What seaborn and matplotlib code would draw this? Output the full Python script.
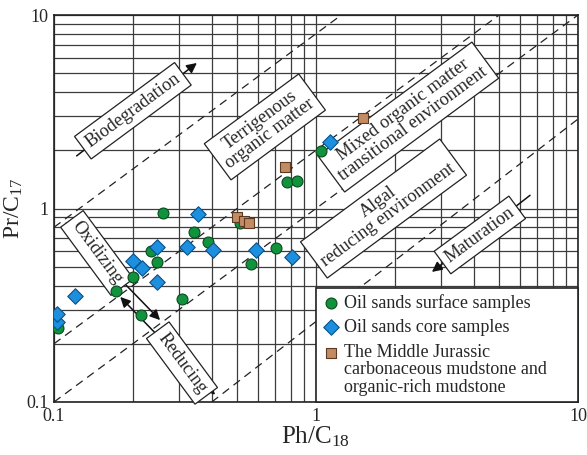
import numpy as np
import pandas as pd
import matplotlib
matplotlib.use('Agg')
import matplotlib.pyplot as plt
import seaborn as sns
from matplotlib.ticker import LogLocator, NullFormatter

# Ph/C18 (x) and Pr/C17 (y) for each sample group
surface_ph = [0.104, 0.172, 0.200, 0.214, 0.234, 0.247, 0.260, 0.307, 0.342, 0.388,
              0.515, 0.564, 0.703, 0.774, 0.843, 1.045]
surface_pr = [0.240, 0.376, 0.444, 0.282, 0.605, 0.527, 0.950, 0.340, 0.760, 0.668,
              0.840, 0.517, 0.627, 1.370, 1.380, 1.980]
core_ph = [0.103, 0.103, 0.120, 0.200, 0.217, 0.247, 0.247, 0.321, 0.353, 0.406,
           0.589, 0.808, 1.130]
core_pr = [0.258, 0.285, 0.353, 0.535, 0.494, 0.635, 0.418, 0.635, 0.933, 0.610,
           0.610, 0.560, 2.210]
mud_ph = [0.498, 0.531, 0.556, 0.762, 1.510]
mud_pr = [0.900, 0.865, 0.845, 1.630, 2.940]

labels = ['Oil sands surface samples', 'Oil sands core samples',
          'The Middle Jurassic\ncarbonaceous mudstone and\norganic-rich mudstone']

# dashed boundary lines (start, end)
boundaries = [((0.1, 0.8), (1.25, 10)), ((0.1, 0.2), (5, 10)),
              ((0.1, 0.1), (10, 10)), ((0.4, 0.1), (10, 2.9))]

# zone / process labels: text, x, y, along (True) or across (False) the lines
zones = [('Biodegradation', 0.200, 3.20, True),
         ('Terrigenous\norganic matter', 0.638, 2.64, True),
         ('Mixed organic matter\ntransitional environment', 2.25, 2.97, True),
         ('Algal\nreducing environment', 1.81, 1.00, True),
         ('Maturation', 4.22, 0.73, True),
         ('Oxidizing', 0.146, 0.589, False),
         ('Reducing', 0.308, 0.159, False)]

# arrows: start, end, style
arrows = [((0.122, 1.87), (0.351, 5.65), '-|>'),
          ((6.56, 1.17), (2.77, 0.47), '-|>'),
          ((0.11, 0.85), (0.254, 0.265), '<|-|>'),
          ((0.179, 0.349), (0.412, 0.109), '<|-|>')]

sns.set_style('white')
plt.rcParams['font.family'] = ['Liberation Serif', 'DejaVu Serif']
plt.rcParams['mathtext.fontset'] = 'custom'
plt.rcParams['mathtext.rm'] = 'Liberation Serif'
plt.rcParams['mathtext.it'] = 'Liberation Serif:italic'

fig = plt.figure(figsize=(5.87, 4.55), dpi=100)
ax = fig.add_axes([54 / 587, 53 / 455, 524 / 587, 387 / 455])
ax.set_xscale('log')
ax.set_yscale('log')
ax.set_xlim(0.1, 10)
ax.set_ylim(0.1, 10)

# grid on every major and minor decade step
for axis in (ax.xaxis, ax.yaxis):
    axis.set_major_locator(LogLocator(base=10))
    axis.set_minor_locator(LogLocator(base=10, subs=np.arange(2, 10)))
    axis.set_minor_formatter(NullFormatter())
ax.set_xticks([0.1, 1, 10], ['0.1', '1', '10'])
ax.set_yticks([0.1, 1, 10], ['0.1', '1', '10'])
ax.grid(which='both', color='#3c3c3c', lw=0.9)
ax.set_axisbelow(True)
ax.tick_params(which='both', length=0, labelsize=13, pad=4)
for s in ax.spines.values():
    s.set_color('#222222')
    s.set_linewidth(1.2)

# slope-1 direction on screen
bb = ax.get_position()
ang = np.degrees(np.arctan((bb.height * 455) / (bb.width * 587)))

for (x0, y0), (x1, y1) in boundaries:
    ax.plot([x0, x1], [y0, y1], color='#222222', lw=0.9, ls=(0, (6.5, 4.5)), zorder=2)

for (x0, y0), (x1, y1), st in arrows:
    ax.annotate('', xy=(x1, y1), xytext=(x0, y0),
                arrowprops=dict(arrowstyle=st, color='#111111', lw=1.1,
                                mutation_scale=15, shrinkA=0, shrinkB=0), zorder=3)

for txt, x, y, along in zones:
    ax.text(x, y, txt, rotation=ang if along else ang - 90, rotation_mode='anchor',
            ha='center', va='center', fontsize=13.2, linespacing=1.0, zorder=4,
            bbox=dict(boxstyle='square,pad=0.3', fc='white', ec='#222222', lw=0.9))

sns.scatterplot(x=surface_ph, y=surface_pr, marker='o', s=62, color='#11923c',
                edgecolor='#0b4a1e', linewidth=0.8, label=labels[0], zorder=6, ax=ax)
sns.scatterplot(x=core_ph, y=core_pr, marker='D', s=62, color='#1c8fdf',
                edgecolor='#0d4f86', linewidth=0.8, label=labels[1], zorder=6, ax=ax)
sns.scatterplot(x=mud_ph, y=mud_pr, marker='s', s=52, color='#c48a62',
                edgecolor='#5a3a22', linewidth=0.8, label=labels[2], zorder=6, ax=ax)

leg = ax.legend(loc='lower left', bbox_to_anchor=(0.5, 0, 0.5, 0.301), mode='expand',
                borderaxespad=0, fontsize=13, frameon=True, fancybox=False,
                framealpha=1, edgecolor='#222222', handletextpad=0.2,
                handlelength=1.0, labelspacing=0.42, borderpad=0.33)
leg.get_frame().set_linewidth(1.2)
leg.set_zorder(8)
for t in leg.get_texts():
    t.set_linespacing(1.05)
# put the third marker level with the first line of its label
h3 = leg.legend_handles[2]
off = h3.get_offsets().copy()
off[:, 1] += 13.5
h3.set_offsets(off)

ax.set_xlabel('Ph/C$_{18}$', fontsize=18, labelpad=0)
ax.set_ylabel('Pr/C$_{17}$', fontsize=17, labelpad=1)

fig.savefig('out.png', dpi=100)
